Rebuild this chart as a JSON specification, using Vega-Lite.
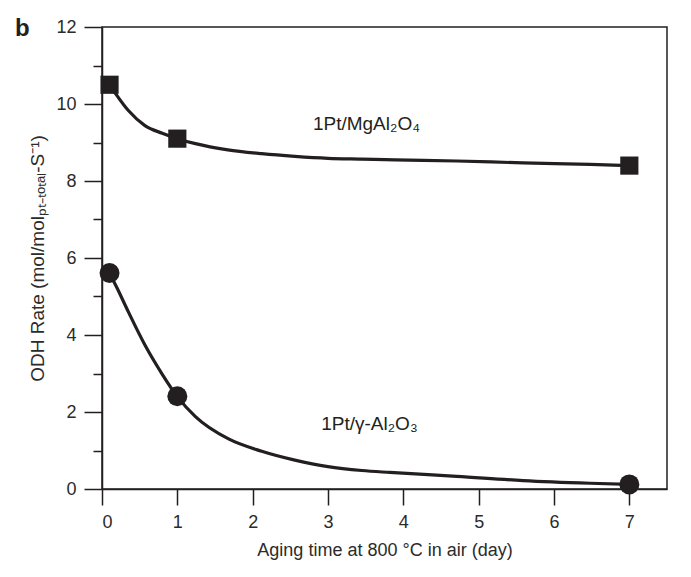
{
  "$schema": "https://vega.github.io/schema/vega-lite/v6.json",
  "autosize": "none",
  "width": 565,
  "height": 462,
  "padding": {"left": 102, "top": 27, "right": 24, "bottom": 88},
  "background": "white",
  "title": {
    "text": "b",
    "anchor": "start",
    "frame": "group",
    "dx": -87,
    "dy": 42,
    "offset": 0,
    "baseline": "alphabetic",
    "fontSize": 24,
    "fontWeight": "bold",
    "font": "Liberation Sans",
    "color": "#231f20"
  },
  "config": {
    "view": {"stroke": "#231f20", "strokeWidth": 1.5}
  },
  "datasets": {
    "curve": [
      {"sample": "1Pt/MgAl2O4", "day": 0.1, "rate": 10.5},
      {"sample": "1Pt/MgAl2O4", "day": 0.18, "rate": 10.27},
      {"sample": "1Pt/MgAl2O4", "day": 0.35, "rate": 9.83},
      {"sample": "1Pt/MgAl2O4", "day": 0.57, "rate": 9.44},
      {"sample": "1Pt/MgAl2O4", "day": 0.8, "rate": 9.24},
      {"sample": "1Pt/MgAl2O4", "day": 1.0, "rate": 9.1},
      {"sample": "1Pt/MgAl2O4", "day": 1.24, "rate": 8.97},
      {"sample": "1Pt/MgAl2O4", "day": 1.67, "rate": 8.81},
      {"sample": "1Pt/MgAl2O4", "day": 2.12, "rate": 8.71},
      {"sample": "1Pt/MgAl2O4", "day": 2.56, "rate": 8.64},
      {"sample": "1Pt/MgAl2O4", "day": 3.0, "rate": 8.59},
      {"sample": "1Pt/MgAl2O4", "day": 3.45, "rate": 8.57},
      {"sample": "1Pt/MgAl2O4", "day": 3.89, "rate": 8.55},
      {"sample": "1Pt/MgAl2O4", "day": 4.71, "rate": 8.52},
      {"sample": "1Pt/MgAl2O4", "day": 5.59, "rate": 8.47},
      {"sample": "1Pt/MgAl2O4", "day": 6.48, "rate": 8.43},
      {"sample": "1Pt/MgAl2O4", "day": 7.0, "rate": 8.4},
      {"sample": "1Pt/γ-Al2O3", "day": 0.1, "rate": 5.61},
      {"sample": "1Pt/γ-Al2O3", "day": 0.2, "rate": 5.22},
      {"sample": "1Pt/γ-Al2O3", "day": 0.35, "rate": 4.6},
      {"sample": "1Pt/γ-Al2O3", "day": 0.57, "rate": 3.74},
      {"sample": "1Pt/γ-Al2O3", "day": 0.8, "rate": 2.98},
      {"sample": "1Pt/γ-Al2O3", "day": 1.0, "rate": 2.4},
      {"sample": "1Pt/γ-Al2O3", "day": 1.24, "rate": 1.88},
      {"sample": "1Pt/γ-Al2O3", "day": 1.68, "rate": 1.3},
      {"sample": "1Pt/γ-Al2O3", "day": 2.12, "rate": 0.98},
      {"sample": "1Pt/γ-Al2O3", "day": 2.56, "rate": 0.75},
      {"sample": "1Pt/γ-Al2O3", "day": 3.0, "rate": 0.58},
      {"sample": "1Pt/γ-Al2O3", "day": 3.45, "rate": 0.48},
      {"sample": "1Pt/γ-Al2O3", "day": 3.82, "rate": 0.43},
      {"sample": "1Pt/γ-Al2O3", "day": 4.71, "rate": 0.33},
      {"sample": "1Pt/γ-Al2O3", "day": 5.59, "rate": 0.22},
      {"sample": "1Pt/γ-Al2O3", "day": 6.48, "rate": 0.15},
      {"sample": "1Pt/γ-Al2O3", "day": 7.0, "rate": 0.12}
    ],
    "measured": [
      {"sample": "1Pt/MgAl2O4", "day": 0.1, "rate": 10.5},
      {"sample": "1Pt/MgAl2O4", "day": 1, "rate": 9.1},
      {"sample": "1Pt/MgAl2O4", "day": 7, "rate": 8.4},
      {"sample": "1Pt/γ-Al2O3", "day": 0.1, "rate": 5.61},
      {"sample": "1Pt/γ-Al2O3", "day": 1, "rate": 2.41},
      {"sample": "1Pt/γ-Al2O3", "day": 7, "rate": 0.12}
    ],
    "labels": [
      {"text": "1Pt/MgAl₂O₄", "day": 2.8, "rate": 9.33},
      {"text": "1Pt/γ-Al₂O₃", "day": 2.91, "rate": 1.53}
    ]
  },
  "encoding": {
    "x": {
      "field": "day",
      "type": "quantitative",
      "scale": {"domain": [0, 7.5], "nice": false, "zero": false},
      "axis": {
        "title": "Aging time at 800 °C in air (day)",
        "values": [0, 0.5, 1, 1.5, 2, 2.5, 3, 3.5, 4, 4.5, 5, 5.5, 6, 6.5, 7, 7.5],
        "format": "d",
        "grid": false,
        "labelOverlap": false,
        "labelFont": "Liberation Sans",
        "titleFont": "Liberation Sans",
        "labelFontSize": 18,
        "titleFontSize": 18,
        "titleFontWeight": "normal",
        "labelColor": "#2b2b2b",
        "titleColor": "#2b2b2b",
        "domainColor": "#231f20",
        "domainWidth": 1.5,
        "tickColor": "#231f20",
        "tickWidth": 1.5,
        "tickSize": {"condition": {"test": "datum.value % 1 === 0 && datum.value < 7.5", "value": 16}, "value": 8},
        "labelExpr": "datum.value % 1 === 0 && datum.value < 7.5 ? datum.label : ''",
        "labelPadding": 8,
        "titlePadding": 10
      }
    },
    "y": {
      "field": "rate",
      "type": "quantitative",
      "scale": {"domain": [0, 12], "nice": false},
      "axis": {
        "title": "ODH Rate (mol/molₚₜ₋ₜₒₜₐₗ-S⁻¹)",
        "values": [0, 1, 2, 3, 4, 5, 6, 7, 8, 9, 10, 11, 12],
        "format": "d",
        "grid": false,
        "labelOverlap": false,
        "labelFont": "Liberation Sans",
        "titleFont": "Liberation Sans",
        "labelFontSize": 18,
        "titleFontSize": 19,
        "titleFontWeight": "normal",
        "labelColor": "#2b2b2b",
        "titleColor": "#2b2b2b",
        "domainColor": "#231f20",
        "domainWidth": 1.5,
        "tickColor": "#231f20",
        "tickWidth": 1.5,
        "tickSize": {"condition": {"test": "datum.value % 2 === 0", "value": 18}, "value": 9},
        "labelExpr": "datum.value % 2 === 0 ? datum.label : ''",
        "labelPadding": 8,
        "titlePadding": 8
      }
    }
  },
  "layer": [
    {
      "data": {"name": "curve"},
      "mark": {"type": "line", "interpolate": "monotone", "color": "#231f20", "strokeWidth": 3.2},
      "encoding": {"detail": {"field": "sample", "type": "nominal"}}
    },
    {
      "data": {"name": "measured"},
      "transform": [{"filter": "datum.sample === '1Pt/MgAl2O4'"}],
      "mark": {"type": "point", "shape": "square", "filled": true, "size": 330, "color": "#231f20", "opacity": 1},
      "encoding": {}
    },
    {
      "data": {"name": "measured"},
      "transform": [{"filter": "datum.sample !== '1Pt/MgAl2O4'"}],
      "mark": {"type": "point", "shape": "circle", "filled": true, "size": 400, "color": "#231f20", "opacity": 1},
      "encoding": {}
    },
    {
      "data": {"name": "labels"},
      "mark": {"type": "text", "align": "left", "baseline": "alphabetic", "font": "Liberation Sans", "fontSize": 19, "color": "#231f20"},
      "encoding": {"text": {"field": "text", "type": "nominal"}}
    }
  ]
}
